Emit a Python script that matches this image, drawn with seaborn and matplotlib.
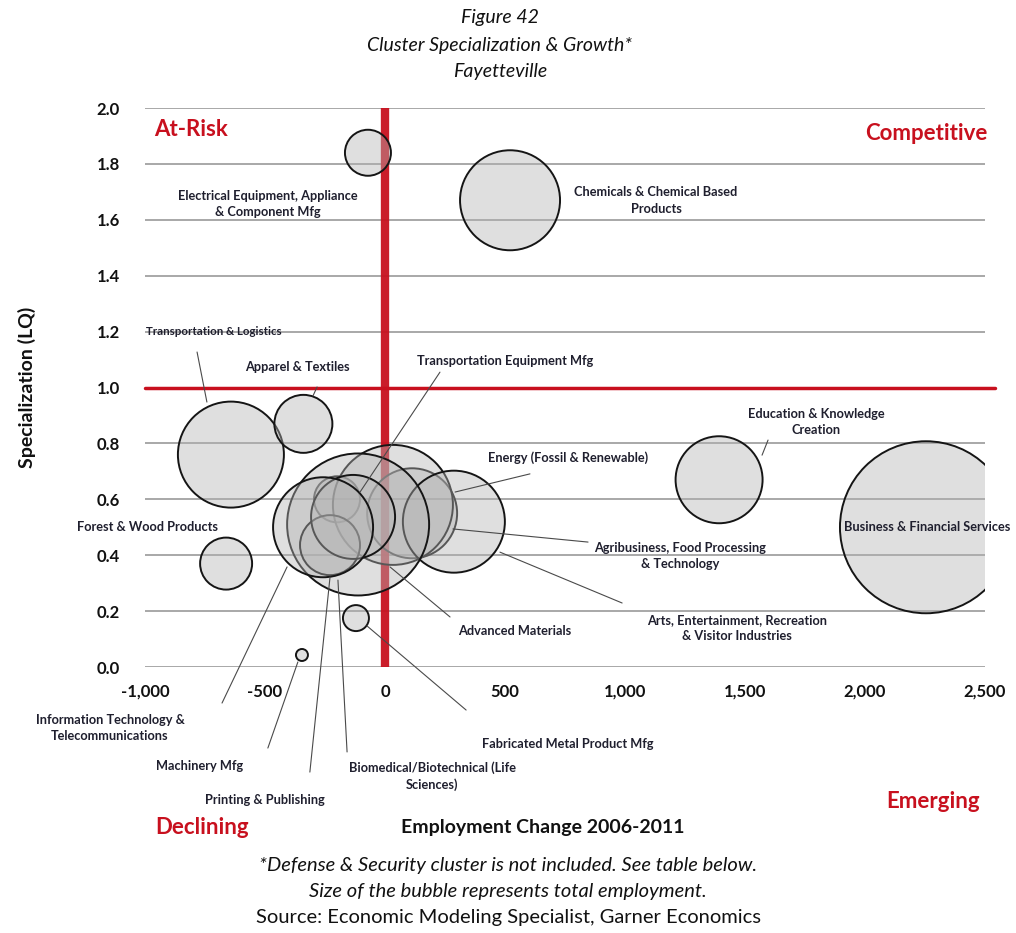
import pandas as pd
import matplotlib.pyplot as plt
import seaborn as sns
from matplotlib.ticker import FuncFormatter

# cluster data
clusters = [
    "Electrical Equipment, Appliance\n& Component Mfg",
    "Chemicals & Chemical Based\nProducts",
    "Transportation & Logistics",
    "Apparel & Textiles",
    "Transportation Equipment Mfg",
    "Education & Knowledge\nCreation",
    "Energy (Fossil & Renewable)",
    "Forest & Wood Products",
    "Business & Financial Services",
    "Agribusiness, Food Processing\n& Technology",
    "Arts, Entertainment, Recreation\n& Visitor Industries",
    "Advanced Materials",
    "Fabricated Metal Product Mfg",
    "Biomedical/Biotechnical (Life\nSciences)",
    "Printing & Publishing",
    "Machinery Mfg",
    "Information Technology &\nTelecommunications",
]
emp_change = [-71, 521, -642, -340, -200, 1392, 113, -662, 2254, 33, 287,
              -112, -121, -229, -133, -346, -258]
lq = [1.84, 1.67, 0.76, 0.87, 0.60, 0.67, 0.55, 0.37, 0.50, 0.58, 0.52,
      0.51, 0.175, 0.436, 0.537, 0.043, 0.50]
employment = [2116, 10000, 11236, 3364, 2116, 7569, 8100, 2704, 29584, 14400,
              10404, 20164, 676, 3600, 7056, 144, 10000]

x_ticks = [-1000, -500, 0, 500, 1000, 1500, 2000, 2500]
y_ticks = [0.0, 0.2, 0.4, 0.6, 0.8, 1.0, 1.2, 1.4, 1.6, 1.8, 2.0]

# label placement (data coords): text position, leader line start, leader line end
label_layout = {
    clusters[0]: ((-488, 1.657), None, None),
    clusters[1]: ((1129, 1.67), None, None),
    clusters[2]: ((-712, 1.20), (-783, 1.127), (-742, 0.948)),
    clusters[3]: ((-367, 1.073), (-283, 1.002), (-300, 0.970)),
    clusters[4]: ((500, 1.095), (229, 1.055), (-104, 0.626)),
    clusters[5]: ((1796, 0.877), (1596, 0.812), (1571, 0.758)),
    clusters[6]: ((763, 0.748), (604, 0.691), (292, 0.626)),
    clusters[7]: ((-988, 0.50), None, None),
    clusters[8]: ((2258, 0.50), None, None),
    clusters[9]: ((1229, 0.397), (846, 0.447), (283, 0.494)),
    clusters[10]: ((1467, 0.14), (988, 0.229), (479, 0.411)),
    clusters[11]: ((542, 0.129), (271, 0.179), (21, 0.358)),
    clusters[12]: ((763, -0.275), (338, -0.154), (-75, 0.147)),
    clusters[13]: ((196, -0.39), (-158, -0.304), (-196, 0.311)),
    clusters[14]: ((-500, -0.476), (-313, -0.376), (-229, 0.322)),
    clusters[15]: ((-771, -0.354), (-488, -0.290), (-363, 0.018)),
    clusters[16]: ((-1146, -0.218), (-679, -0.129), (-408, 0.358)),
}

df = pd.DataFrame({"cluster": clusters, "change": emp_change, "lq": lq,
                   "employment": employment})

sns.set_theme(style="white")
plt.rcParams['font.family'] = ['Lato', 'DejaVu Sans']

RED = '#c8101e'
TXT = '#1f1f2e'

fig = plt.figure(figsize=(10.16, 9.33), dpi=100)
ax = fig.add_axes([0.1427, 0.2851, 0.8268, 0.5991])

# horizontal gridlines
for yv in y_ticks:
    if yv != 1.0:
        ax.axhline(yv, color='#9a9a9a', lw=1.2, zorder=0)

max_emp = max(employment)
sns.scatterplot(data=df, x="change", y="lq", size="employment",
                sizes=(0, 0.5184 * max_emp), size_norm=(0, max_emp),
                legend=False, edgecolor='black', linewidth=1.4, ax=ax, zorder=3)
pts = ax.collections[-1]
pts.set_facecolor((0.70, 0.70, 0.70, 0.42))
pts.set_edgecolor('#151515')

# quadrant dividers
ax.axvline(0, color=RED, lw=6, zorder=2, alpha=0.95)
ax.plot([-1000, 2540], [1.0, 1.0], color=RED, lw=2.5, zorder=2, clip_on=False)

ax.set_xlim(-1000, 2500)
ax.set_ylim(0, 2.0)
ax.set_xticks(x_ticks)
ax.set_yticks(y_ticks)
ax.xaxis.set_major_formatter(FuncFormatter(lambda v, p: f"{v:,.0f}"))
ax.yaxis.set_major_formatter(FuncFormatter(lambda v, p: f"{v:.1f}"))
ax.tick_params(axis='both', length=0, labelsize=12, labelcolor='#111111')
ax.tick_params(axis='x', pad=12)
ax.tick_params(axis='y', pad=18)
for t in ax.get_xticklabels() + ax.get_yticklabels():
    t.set_fontweight('bold')
for s in ax.spines.values():
    s.set_visible(False)
ax.set_xlabel("")
ax.set_ylabel("Specialization (LQ)", fontsize=14, fontweight='bold',
              color='#111111', labelpad=44)

# bubble labels with leader lines
for name, (pos, start, end) in label_layout.items():
    fs = 8.3 if name == "Transportation & Logistics" else 9.2
    ax.text(pos[0], pos[1], name, ha='center', va='center', fontsize=fs,
            fontweight='bold', color=TXT, linespacing=1.45, zorder=5,
            clip_on=False)
    if start is not None:
        ax.annotate("", xy=end, xytext=start,
                    arrowprops=dict(arrowstyle='-', color='#4a4a4a', lw=0.8,
                                    shrinkA=0, shrinkB=0),
                    annotation_clip=False, zorder=4)

# quadrant names
quad = dict(color=RED, fontsize=16, fontweight='bold', ha='center', va='center')
fig.text(191 / 1016, 1 - 130 / 933, "At-Risk", **quad)
fig.text(926 / 1016, 1 - 133 / 933, "Competitive", **quad)
fig.text(202 / 1016, 1 - 827 / 933, "Declining", **quad)
fig.text(933 / 1016, 1 - 802 / 933, "Emerging", **quad)

fig.text(543 / 1016, 1 - 828 / 933, "Employment Change 2006-2011", ha='center',
         va='center', fontsize=14, fontweight='bold', color='#111111')

# titles
for yy, txt in [(17, "Figure 42"), (45, "Cluster Specialization & Growth*"),
                (72, "Fayetteville")]:
    fig.text(500 / 1016, 1 - yy / 933, txt, ha='center', va='center',
             fontsize=14, style='italic', color='#111111')

# footnotes
fig.text(508 / 1016, 1 - 865 / 933,
         "*Defense & Security cluster is not included. See table below.",
         ha='center', va='center', fontsize=14.5, style='italic', color='#111111')
fig.text(508 / 1016, 1 - 891 / 933,
         "Size of the bubble represents total employment.",
         ha='center', va='center', fontsize=14.5, style='italic', color='#111111')
fig.text(508 / 1016, 1 - 918 / 933,
         "Source: Economic Modeling Specialist, Garner Economics",
         ha='center', va='center', fontsize=14.5, color='#111111')

fig.savefig("out.png", dpi=100)
